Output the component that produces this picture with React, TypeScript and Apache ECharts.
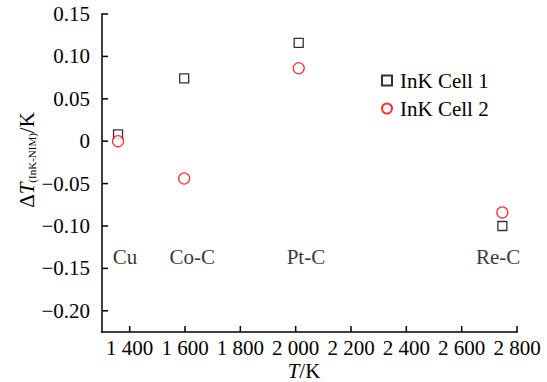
import React, { useEffect, useRef } from "react";
import * as echarts from "echarts";

const pointNames = ["Cu", "Co-C", "Pt-C", "Re-C"];
const temperatures = [1358, 1597, 2011, 2747];
const cell1Values = [0.008, 0.074, 0.116, -0.1];
const cell2Values = [0.0, -0.044, 0.086, -0.084];
const labelTemps = [1383, 1626, 2037, 2732];
const labelValues = [-0.137, -0.137, -0.137, -0.137];
const xTicks = [1400, 1600, 1800, 2000, 2200, 2400, 2600, 2800];
const yTicks = [-0.2, -0.15, -0.1, -0.05, 0, 0.05, 0.1, 0.15];
const seriesNames = ["InK Cell 1", "InK Cell 2"];
const xRange = [1300, 2800];
const yRange = [-0.225, 0.15];

const FONT = "Liberation Serif, DejaVu Serif, serif";
const GRID = { left: 102, top: 14, right: 30, bottom: 50 };
const W = 547;
const H = 382;

function fmtX(v: number) {
  const th = Math.floor(v / 1000);
  const rest = String(v % 1000).padStart(3, "0");
  return `${th} ${rest}`;
}
function fmtY(v: number) {
  if (Math.abs(v) < 1e-9) return "0";
  const s = Math.abs(v).toFixed(2);
  return v < 0 ? "\u2212" + s : s;
}

export default function App() {
  const ref = useRef<HTMLDivElement>(null);
  useEffect(() => {
    document.body.style.margin = "0";
    if (!ref.current) return;
    const chart = echarts.init(ref.current, null, { renderer: "svg" });
    const valueAxis = (range: number[], ticks: number[], fmt: (v: number) => string, margin: number) => ({
      type: "value",
      min: range[0],
      max: range[1],
      axisLine: { show: false, onZero: false },
      axisTick: { show: false },
      axisLabel: {
        customValues: ticks,
        formatter: fmt,
        fontFamily: FONT,
        fontSize: 21,
        color: "#000",
        margin,
      },
      splitLine: { show: false },
    });
    chart.setOption({
      animation: false,
      backgroundColor: "#fff",
      textStyle: { fontFamily: FONT },
      grid: GRID,
      legend: {
        data: seriesNames,
        orient: "vertical",
        left: 376,
        top: 65,
        itemWidth: 10,
        itemHeight: 10,
        itemGap: 7,
        textStyle: { fontFamily: FONT, fontSize: 21, color: "#000", padding: [0, 0, 0, 3] },
      },
      xAxis: valueAxis(xRange, xTicks, fmtX, 5),
      yAxis: valueAxis(yRange, yTicks, fmtY, 12),
      series: [
        {
          name: seriesNames[0],
          type: "scatter",
          symbol: "rect",
          symbolSize: 9,
          itemStyle: { color: "#fff", borderColor: "#000", borderWidth: 1.3 },
          data: temperatures.map((t, i) => [t, cell1Values[i]]),
        },
        {
          name: seriesNames[1],
          type: "scatter",
          symbol: "circle",
          symbolSize: 11,
          itemStyle: { color: "#fff", borderColor: "#ff0000", borderWidth: 1.3 },
          data: temperatures.map((t, i) => [t, cell2Values[i]]),
        },
        {
          name: "labels",
          type: "scatter",
          symbolSize: 0,
          silent: true,
          label: {
            show: true,
            position: "inside",
            formatter: "{b}",
            fontFamily: FONT,
            fontSize: 21,
            color: "#000",
          },
          data: pointNames.map((n, i) => ({ name: n, value: [labelTemps[i], labelValues[i]] })),
        },
      ],
    });

    const finder = { xAxisIndex: 0, yAxisIndex: 0 };
    const x0Fallback = GRID.left;
    const x1Fallback = W - GRID.right;
    const y0Fallback = H - GRID.bottom;
    const y1Fallback = GRID.top;
    const toPx = (v: number[], fb: number[]) => {
      let p: any = null;
      try {
        p = chart.convertToPixel(finder, v);
      } catch (e) {
        p = null;
      }
      if (!p || !isFinite(p[0]) || !isFinite(p[1])) return fb;
      return [p[0], p[1]];
    };
    const xSpan = x1Fallback - x0Fallback;
    const ySpan = y0Fallback - y1Fallback;
    const fbX = (t: number) => x0Fallback + ((t - xRange[0]) / (xRange[1] - xRange[0])) * xSpan;
    const fbY = (v: number) => y0Fallback - ((v - yRange[0]) / (yRange[1] - yRange[0])) * ySpan;

    const origin = toPx([xRange[0], yRange[0]], [x0Fallback, y0Fallback]);
    const xEnd = toPx([xRange[1], yRange[0]], [x1Fallback, y0Fallback]);
    const yEnd = toPx([xRange[0], yRange[1]], [x0Fallback, y1Fallback]);
    const lw = 1.5;
    const fill = { fill: "#000" };
    const axisGraphics: any[] = [
      {
        type: "rect",
        z: 100,
        silent: true,
        shape: { x: origin[0] - lw / 2, y: origin[1] - lw / 2, width: xEnd[0] - origin[0] + lw, height: lw },
        style: fill,
      },
      {
        type: "rect",
        z: 100,
        silent: true,
        shape: { x: origin[0] - lw / 2, y: yEnd[1] - lw / 2, width: lw, height: origin[1] - yEnd[1] + lw },
        style: fill,
      },
    ];
    xTicks.forEach((t) => {
      const p = toPx([t, yRange[0]], [fbX(t), y0Fallback]);
      axisGraphics.push({
        type: "rect",
        z: 100,
        silent: true,
        shape: { x: p[0] - lw / 2, y: p[1] - 6, width: lw, height: 6 },
        style: fill,
      });
    });
    yTicks.forEach((v) => {
      const p = toPx([xRange[0], v], [x0Fallback, fbY(v)]);
      axisGraphics.push({
        type: "rect",
        z: 100,
        silent: true,
        shape: { x: p[0], y: p[1] - lw / 2, width: 6, height: lw },
        style: fill,
      });
    });

    chart.setOption({
      graphic: [
        ...axisGraphics,
        {
          type: "text",
          x: 27,
          y: 160,
          rotation: Math.PI / 2,
          style: {
            text: "{n|Δ}{i|T}{s|(InK-NIM)}{n|/K}",
            align: "center",
            verticalAlign: "middle",
            fill: "#000",
            rich: {
              n: { fontFamily: FONT, fontSize: 21, fontStyle: "normal", fill: "#000" },
              i: { fontFamily: FONT, fontSize: 21, fontStyle: "italic", fill: "#000" },
              s: { fontFamily: FONT, fontSize: 11, fontStyle: "normal", fill: "#000", padding: [10, 0, 0, 0] },
            },
          },
        },
        {
          type: "text",
          x: 304,
          y: 371,
          style: {
            text: "{i|T}{n|/K}",
            align: "center",
            verticalAlign: "middle",
            rich: {
              n: { fontFamily: FONT, fontSize: 21, fontStyle: "normal", fill: "#000" },
              i: { fontFamily: FONT, fontSize: 21, fontStyle: "italic", fill: "#000" },
            },
          },
        },
      ],
    });
    return () => chart.dispose();
  }, []);
  return <div ref={ref} style={{ width: 547, height: 382 }} />;
}
